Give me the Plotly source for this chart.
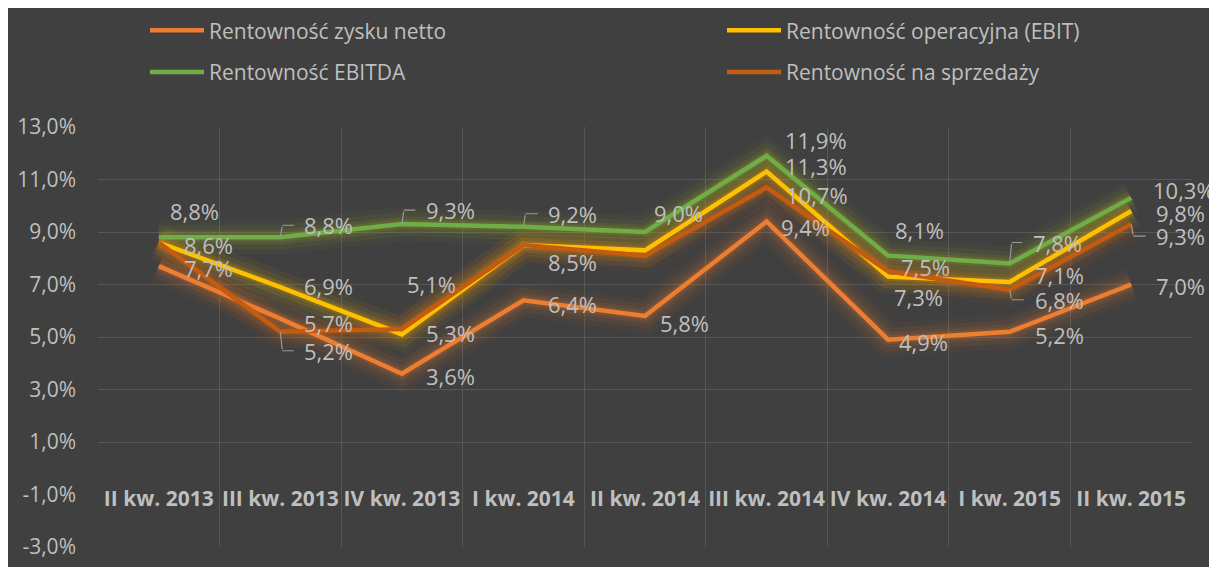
import plotly.graph_objects as go

# ---------------- data ----------------
categories = ["II kw. 2013", "III kw. 2013", "IV kw. 2013", "I kw. 2014", "II kw. 2014",
              "III kw. 2014", "IV kw. 2014", "I kw. 2015", "II kw. 2015"]
netto = [7.7, 5.7, 3.6, 6.4, 5.8, 9.4, 4.9, 5.2, 7.0]
ebit = [8.6, 6.9, 5.1, 8.5, 8.3, 11.3, 7.3, 7.1, 9.8]
ebitda = [8.8, 8.8, 9.3, 9.2, 9.0, 11.9, 8.1, 7.8, 10.3]
sprzedaz = [8.6, 5.2, 5.3, 8.5, 8.1, 10.7, 7.5, 6.8, 9.3]
series_names = ["Rentowność zysku netto", "Rentowność operacyjna (EBIT)",
                "Rentowność EBITDA", "Rentowność na sprzedaży"]
y_ticks = [-3, -1, 1, 3, 5, 7, 9, 11, 13]
grid_ticks = [1, 3, 5, 7, 9, 11, 13]

# ---------------- style ----------------
colors = ["#ED7D31", "#FFC000", "#70AD47", "#C55A11"]
glow_colors = ["#ED7D31", "#FFC000", "#A5B82A", "#D06A1A"]
BG = "#404040"
GRID = "#575757"
TXT = "#bfbfbf"
FONT = "Open Sans"

# label offsets: (dx px right, dy px down, leader line?) ; None = no label
label_offsets = [
    [(23, 2, 0), (22, 4, 0), (22, 2, 0), (23, 4, 0), (13, 7, 0), (12, 5, 0), (9, 2, 0), (23, 3, 0), (23, 1, 0)],
    [(23, 2, 0), (22, -1, 0), (3, -50, 0), (23, 17, 0), None, (16, -6, 0), (4, 20, 0), (23, -7, 0), (23, 2, 0)],
    [(9, -26, 0), (22, -12, 1), (22, -14, 1), (23, -13, 1), (7, -19, 0), (16, -16, 0), (5, -26, 0), (21, -21, 1), (20, -8, 0)],
    [None, (22, 19, 1), (22, 4, 0), None, None, (17, 8, 0), (11, -4, 0), (23, 10, 1), (23, 12, 1)],
]
# legend entry anchor (left x, centre y) in figure pixels
legend_pos = [(137, 22.7), (714, 22.7), (137, 64.3), (714, 64.3)]

W, H = 1209, 559
ML, MR, MT, MB = 90, 25, 119, 20

all_series = [netto, ebit, ebitda, sprzedaz]


def fmt(v):
    return f"{v:.1f}".replace(".", ",") + "%"


fig = go.Figure()

# glow layers
for vals, c in zip(all_series, glow_colors):
    r, g, b = int(c[1:3], 16), int(c[3:5], 16), int(c[5:7], 16)
    for w, a in [(34, 0.05), (24, 0.07), (15, 0.10), (9, 0.14)]:
        fig.add_trace(go.Scatter(x=categories, y=vals, mode="lines",
                                 line=dict(color=f"rgba({r},{g},{b},{a})", width=w),
                                 showlegend=False, hoverinfo="skip"))

# main lines
legend_ids = ["legend", "legend2", "legend3", "legend4"]
for vals, c, name, lid in zip(all_series, colors, series_names, legend_ids):
    fig.add_trace(go.Scatter(x=categories, y=vals, mode="lines", name=name,
                             line=dict(color=c, width=4.5), legend=lid))

annotations = []
for vals, offs in zip(all_series, label_offsets):
    for cat, v, o in zip(categories, vals, offs):
        if o is None:
            continue
        dx, dy, lead = o
        annotations.append(dict(x=cat, y=v, xref="x", yref="y", text=fmt(v),
                                showarrow=False, xanchor="left", yanchor="middle",
                                xshift=dx, yshift=-dy,
                                font=dict(family=FONT, size=22, color=TXT)))
        if lead:
            # vertical part of leader
            annotations.append(dict(x=cat, y=v, xref="x", yref="y", text="",
                                    showarrow=True, arrowhead=0, arrowwidth=1.2,
                                    arrowcolor="#999999", ax=2, ay=dy,
                                    standoff=0, startstandoff=0,
                                    font=dict(size=1)))
            # horizontal part of leader
            annotations.append(dict(x=cat, y=v, xref="x", yref="y", text="",
                                    showarrow=True, arrowhead=0, arrowwidth=1.2,
                                    arrowcolor="#999999", ax=dx - 9, ay=0,
                                    xshift=2, yshift=-dy,
                                    standoff=0, startstandoff=0,
                                    font=dict(size=1)))

layout_legends = {}
for lid, (px, py) in zip(legend_ids, legend_pos):
    layout_legends[lid] = dict(x=px / W, y=1 - py / H, xref="container", yref="container",
                               xanchor="left", yanchor="middle",
                               bgcolor="rgba(0,0,0,0)", itemwidth=54,
                               font=dict(family=FONT, size=21, color=TXT))

fig.update_layout(
    width=W, height=H,
    margin=dict(l=ML, r=MR, t=MT, b=MB, autoexpand=False),
    paper_bgcolor=BG,
    plot_bgcolor=BG,
    font=dict(family=FONT, color=TXT),
    showlegend=True,
    annotations=annotations,
    **layout_legends,
)

fig.update_xaxes(type="category", range=[-0.5, 8.5], tickson="boundaries",
                 showgrid=True, gridcolor=GRID, gridwidth=1,
                 showline=False, zeroline=False, ticks="", tickangle=0,
                 anchor="free", position=3 / 16, ticklabelstandoff=16,
                 automargin=False,
                 tickfont=dict(family=FONT, size=21, color=TXT, weight="bold"))
fig.update_yaxes(range=[-3, 13], tickvals=y_ticks, ticktext=[fmt(v) for v in y_ticks],
                 showgrid=False, zeroline=False, showline=False, ticks="",
                 ticklabelstandoff=21, automargin=False,
                 tickfont=dict(family=FONT, size=21, color=TXT),
                 minor=dict(tickvals=grid_ticks, showgrid=True, gridcolor=GRID, gridwidth=1))

fig.write_html("out.html")
